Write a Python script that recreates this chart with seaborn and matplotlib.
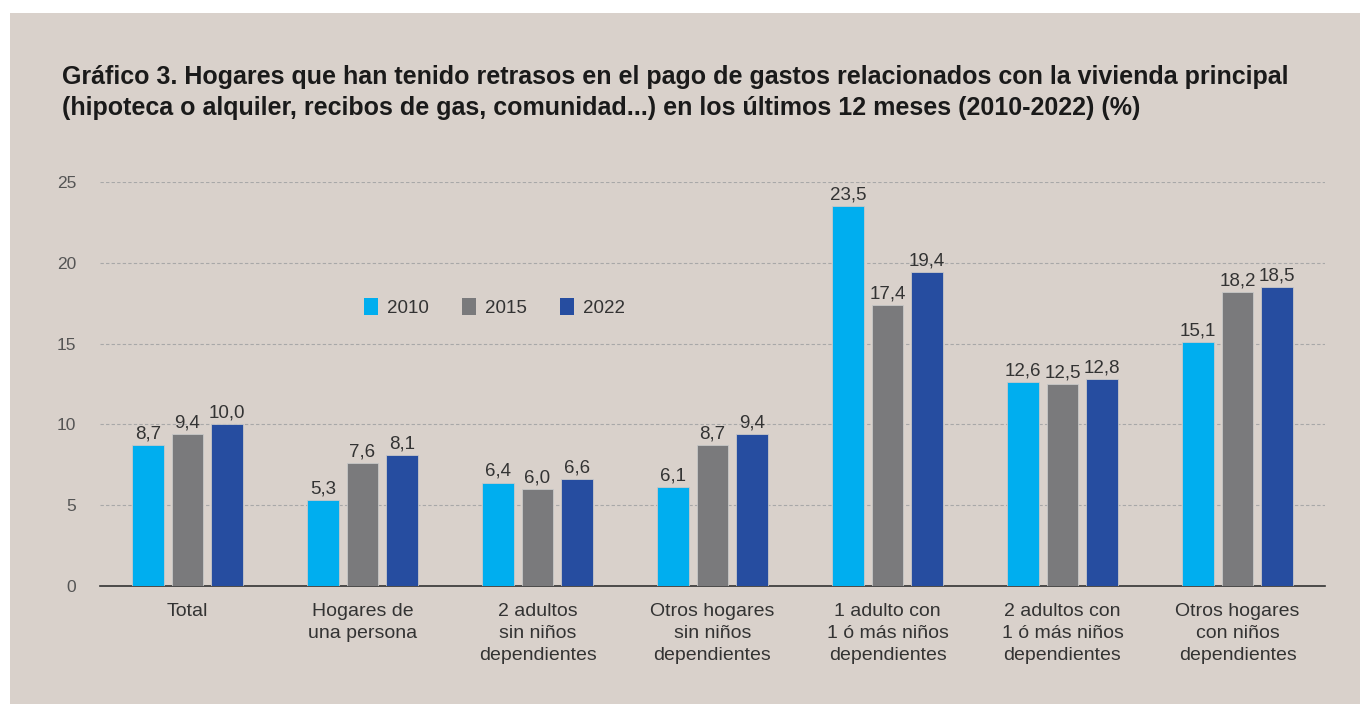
import matplotlib.pyplot as plt
import matplotlib.patches as mpatches
import seaborn as sns
import pandas as pd

categories = ['Total', 'Hogares de\nuna persona', '2 adultos\nsin niños\ndependientes',
              'Otros hogares\nsin niños\ndependientes', '1 adulto con\n1 ó más niños\ndependientes',
              '2 adultos con\n1 ó más niños\ndependientes', 'Otros hogares\ncon niños\ndependientes']
years = ['2010', '2015', '2022']
v2010 = [8.7, 5.3, 6.4, 6.1, 23.5, 12.6, 15.1]
v2015 = [9.4, 7.6, 6.0, 8.7, 17.4, 12.5, 18.2]
v2022 = [10.0, 8.1, 6.6, 9.4, 19.4, 12.8, 18.5]
yticks = [0, 5, 10, 15, 20, 25]

bg = '#d9d1cb'
colors = ['#00aeef', '#7a7a7c', '#264da0']
txt = '#333333'

df = pd.DataFrame({
    'cat': categories * 3,
    'year': [y for y in years for _ in categories],
    'val': v2010 + v2015 + v2022,
})

sns.set_theme(style='white')
plt.rcParams['font.family'] = ['Liberation Sans', 'DejaVu Sans']

fig = plt.figure(figsize=(13.6, 7.04), dpi=100)
fig.patch.set_facecolor('white')
fig.patches.append(mpatches.Rectangle((10 / 1360, 0), 1, 1 - 13 / 704, transform=fig.transFigure,
                                      facecolor=bg, edgecolor='none', zorder=-10))

ax = fig.add_axes([100 / 1360, 1 - 586 / 704, 1225 / 1360, 404 / 704])
ax.set_facecolor(bg)

sns.barplot(data=df, x='cat', y='val', hue='year', palette=colors, saturation=1,
            width=0.68, gap=0.2, edgecolor='#c8c8c8', linewidth=0.6, ax=ax, zorder=3)

for cont in ax.containers:
    ax.bar_label(cont, labels=[f'{v:.1f}'.replace('.', ',') for v in cont.datavalues],
                 padding=2, fontsize=13.5, color=txt, clip_on=False)

ax.set_ylim(0, 25)
ax.set_xlim(-0.5, 6.5)
ax.set_yticks(yticks)
ax.set_yticklabels([str(t) for t in yticks])
for t in yticks[1:]:
    ax.axhline(t, color='#a8a8a8', lw=0.8, ls=(0, (3, 2)), zorder=1)

for s in ['top', 'right', 'left']:
    ax.spines[s].set_visible(False)
ax.spines['bottom'].set_color('#333333')
ax.spines['bottom'].set_linewidth(1.2)
ax.tick_params(axis='y', length=0, pad=17, labelsize=12.5, labelcolor='#555555')
ax.tick_params(axis='x', length=0, pad=12, labelsize=14, labelcolor=txt)
for lbl in ax.get_xticklabels():
    lbl.set_linespacing(1.38)
ax.set_xlabel('')
ax.set_ylabel('')

ax.legend(loc='center', bbox_to_anchor=(0.322, 0.69), ncol=3, frameon=False, fontsize=13.5,
          handlelength=0.75, handleheight=1.0, handletextpad=0.5, columnspacing=1.75,
          labelcolor=txt)
for h in ax.get_legend().legend_handles:
    h.set_linewidth(0)

fig.text(62 / 1360, 1 - 65 / 704,
         'Gráfico 3. Hogares que han tenido retrasos en el pago de gastos relacionados con la vivienda principal\n'
         '(hipoteca o alquiler, recibos de gas, comunidad...) en los últimos 12 meses (2010-2022) (%)',
         ha='left', va='top', fontsize=18, fontweight='bold', color='#1a1a1a', linespacing=1.38)

fig.savefig('out.png', dpi=100, facecolor=fig.get_facecolor())
